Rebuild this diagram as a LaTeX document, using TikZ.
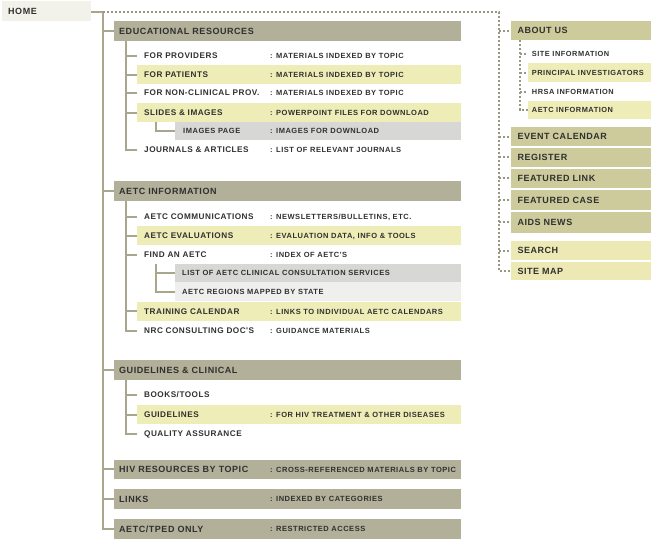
\documentclass[tikz,border=0pt]{standalone}
\usepackage{fontspec}
\newfontfamily\hf[LetterSpace=6]{Liberation Sans}
\newfontfamily\df[LetterSpace=7]{Liberation Sans}
\definecolor{hdr}{HTML}{B2B099}
\definecolor{rdk}{HTML}{CDCB9C}
\definecolor{hil}{HTML}{EEEDB7}
\definecolor{hilb}{HTML}{ECE9B4}
\definecolor{gry}{HTML}{D7D7D5}
\definecolor{lgy}{HTML}{EFEFEE}
\definecolor{homec}{HTML}{F3F2EA}
\definecolor{ln}{HTML}{A8A68C}
\definecolor{dl}{HTML}{99977F}
\definecolor{txt}{HTML}{303030}
\tikzset{
  bx/.style={inner sep=0, minimum height=19, draw=none},
  htx/.style={anchor=west, inner sep=0, text height=6.4, text depth=0, text=txt, font=\hf\bfseries\fontsize{9}{9}\selectfont},
  itx/.style={anchor=west, inner sep=0, text height=5.9, text depth=0, text=txt, font=\hf\bfseries\fontsize{8.2}{8.2}\selectfont},
  dtx/.style={anchor=west, inner sep=0, text height=5.4, text depth=0, text=txt, font=\df\bfseries\fontsize{7.5}{7.5}\selectfont},
  rtx/.style={anchor=west, inner sep=0, text height=5.3, text depth=0, text=txt, font=\df\bfseries\fontsize{7.4}{7.4}\selectfont},
  sln/.style={draw=ln, line width=2},
  dln/.style={draw=dl, line width=2, dash pattern=on 2.2 off 1.8},
}
\begin{document}
\begin{tikzpicture}[x=1pt,y=-1pt]
\useasboundingbox (0,0) rectangle (651,541);
% ---------- HOME
\node[bx, fill=homec, minimum width=89, minimum height=19.5] (home) at (46.5,10.75) {};
\node[htx] (homet) at (8,11) {HOME};
% ---------- headers
\node[bx, fill=hdr, minimum width=347, minimum height=20] (edu) at (287.5,31) {};
\node[htx] (edut) at (119,31) {EDUCATIONAL RESOURCES};
\node[bx, fill=hdr, minimum width=347, minimum height=19.5] (aetc) at (287.5,191) {};
\node[htx] (aetct) at (119,191) {AETC INFORMATION};
\node[bx, fill=hdr, minimum width=347, minimum height=20] (guide) at (287.5,370) {};
\node[htx] (guidet) at (119,370) {GUIDELINES \& CLINICAL};
\node[bx, fill=hdr, minimum width=347, minimum height=19.5] (hiv) at (287.5,469.3) {};
\node[htx] (hivt) at (119,469.3) {HIV RESOURCES BY TOPIC};
\node[dtx] (hivd) at (270,469.3) {: CROSS-REFERENCED MATERIALS BY TOPIC};
\node[bx, fill=hdr, minimum width=347, minimum height=19.5] (links) at (287.5,499) {};
\node[htx] (linkst) at (119,499) {LINKS};
\node[dtx] (linksd) at (270,499) {: INDEXED BY CATEGORIES};
\node[bx, fill=hdr, minimum width=347, minimum height=19.5] (tped) at (287.5,529.2) {};
\node[htx] (tpedt) at (119,529.2) {AETC/TPED ONLY};
\node[dtx] (tpedd) at (270,529.2) {: RESTRICTED ACCESS};
% ---------- educational resources items
\node[bx, minimum width=324] (prov) at (299,56) {};
\node[itx] (provt) at (144,56) {FOR PROVIDERS};
\node[dtx] (provd) at (270,56) {: MATERIALS INDEXED BY TOPIC};
\node[bx, fill=hil, minimum width=324] (pat) at (299,74.5) {};
\node[itx] (patt) at (144,74.5) {FOR PATIENTS};
\node[dtx] (patd) at (270,74.5) {: MATERIALS INDEXED BY TOPIC};
\node[bx, minimum width=324] (nonc) at (299,93) {};
\node[itx] (noncd0) at (144,93) {FOR NON-CLINICAL PROV.};
\node[dtx] (noncd) at (270,93) {: MATERIALS INDEXED BY TOPIC};
\node[bx, fill=hil, minimum width=324] (slides) at (299,112.5) {};
\node[itx] (slidest) at (144,112.5) {SLIDES \& IMAGES};
\node[dtx] (slidesd) at (270,112.5) {: POWERPOINT FILES FOR DOWNLOAD};
\node[bx, fill=gry, minimum width=286, minimum height=18.5] (imgs) at (318,131.2) {};
\node[dtx] (imgst) at (183,131.2) {IMAGES PAGE};
\node[dtx] (imgsd) at (270,131.2) {: IMAGES FOR DOWNLOAD};
\node[bx, minimum width=324] (journ) at (299,149.5) {};
\node[itx] (journt) at (144,149.5) {JOURNALS \& ARTICLES};
\node[dtx] (journd) at (270,149.5) {: LIST OF RELEVANT JOURNALS};
% ---------- AETC items
\node[bx, minimum width=324] (comm) at (299,216.5) {};
\node[itx] (commt) at (144,216.5) {AETC COMMUNICATIONS};
\node[dtx] (commd) at (270,216.5) {: NEWSLETTERS/BULLETINS, ETC.};
\node[bx, fill=hil, minimum width=324] (eval) at (299,235.5) {};
\node[itx] (evalt) at (144,235.5) {AETC EVALUATIONS};
\node[dtx] (evald) at (270,235.5) {: EVALUATION DATA, INFO \& TOOLS};
\node[bx, minimum width=324] (find) at (299,254.5) {};
\node[itx] (findt) at (144,254.5) {FIND AN AETC};
\node[dtx] (findd) at (270,254.5) {: INDEX OF AETC'S};
\node[bx, fill=gry, minimum width=286, minimum height=18] (list) at (318,273.1) {};
\node[dtx] (listt) at (182,273.1) {LIST OF AETC CLINICAL CONSULTATION SERVICES};
\node[bx, fill=lgy, minimum width=286, minimum height=19.3] (regions) at (318,291.7) {};
\node[dtx] (regionst) at (182,291.7) {AETC REGIONS MAPPED BY STATE};
\node[bx, fill=hil, minimum width=324, minimum height=18.7] (train) at (299,311.3) {};
\node[itx] (traint) at (144,311.3) {TRAINING CALENDAR};
\node[dtx] (traind) at (270,311.3) {: LINKS TO INDIVIDUAL AETC CALENDARS};
\node[bx, minimum width=324] (nrc) at (299,331) {};
\node[itx] (nrct) at (144,331) {NRC CONSULTING DOC'S};
\node[dtx] (nrcd) at (270,331) {: GUIDANCE MATERIALS};
% ---------- guidelines items
\node[bx, minimum width=324] (books) at (299,395) {};
\node[itx] (bookst) at (144,395) {BOOKS/TOOLS};
\node[bx, fill=hil, minimum width=324] (gl) at (299,414.5) {};
\node[itx] (glt) at (144,414.5) {GUIDELINES};
\node[dtx] (gld) at (270,414.5) {: FOR HIV TREATMENT \& OTHER DISEASES};
\node[bx, minimum width=324] (qa) at (299,433.5) {};
\node[itx] (qat) at (144,433.5) {QUALITY ASSURANCE};
% ---------- right column
\node[bx, fill=rdk, minimum width=140] (about) at (581,30.5) {};
\node[htx] (aboutt) at (517.3,30.5) {ABOUT US};
\node[bx, minimum width=123] (site) at (589.5,53.5) {};
\node[rtx] (sitet) at (531.7,53.5) {SITE INFORMATION};
\node[bx, fill=hil, minimum width=123] (pi) at (589.5,72.8) {};
\node[rtx] (pit) at (531.7,72.8) {PRINCIPAL INVESTIGATORS};
\node[bx, minimum width=123] (hrsa) at (589.5,91.5) {};
\node[rtx] (hrsat) at (531.7,91.5) {HRSA INFORMATION};
\node[bx, fill=hil, minimum width=123, minimum height=18.3] (ainfo) at (589.5,109.9) {};
\node[rtx] (ainfot) at (531.7,109.9) {AETC INFORMATION};
\node[bx, fill=rdk, minimum width=140, minimum height=18.4] (event) at (581,136.5) {};
\node[htx] (eventt) at (517.3,136.5) {EVENT CALENDAR};
\node[bx, fill=rdk, minimum width=140, minimum height=18.7] (reg) at (581,157.3) {};
\node[htx] (regt) at (517.3,157.3) {REGISTER};
\node[bx, fill=rdk, minimum width=140, minimum height=18.7] (flink) at (581,178.3) {};
\node[htx] (flinkt) at (517.3,178.3) {FEATURED LINK};
\node[bx, fill=rdk, minimum width=140, minimum height=19.7] (fcase) at (581,199.8) {};
\node[htx] (fcaset) at (517.3,199.8) {FEATURED CASE};
\node[bx, fill=rdk, minimum width=140, minimum height=20.7] (aids) at (581,222.3) {};
\node[htx] (aidst) at (517.3,222.3) {AIDS NEWS};
\node[bx, fill=hilb, minimum width=140, minimum height=18.4] (search) at (581,250.5) {};
\node[htx] (searcht) at (517.3,250.5) {SEARCH};
\node[bx, fill=hilb, minimum width=140, minimum height=18] (smap) at (581,271) {};
\node[htx] (smapt) at (517.3,271) {SITE MAP};
% ---------- coordinates
\coordinate (t0) at (103,12);
\coordinate (r0) at (499,12);
\coordinate (e0) at (126,41);
\coordinate (a0) at (126,200.7);
\coordinate (g0) at (126,380);
\coordinate (s0) at (156,122);
\coordinate (f0) at (156,264);
\coordinate (u0) at (520,40);
% ---------- solid tree
\draw[sln] (home.east |- t0) -- (t0) -- (t0 |- tped.west) -- (tped.west);
\foreach \n in {edu,aetc,guide,hiv,links} \draw[sln] (t0 |- \n.west) -- (\n.west);
\draw[sln] (e0) -- (e0 |- journ.west) -- (journ.west);
\foreach \n in {prov,pat,nonc,slides} \draw[sln] (e0 |- \n.west) -- (\n.west);
\draw[sln] (s0) -- (s0 |- imgs.west) -- (imgs.west);
\draw[sln] (a0) -- (a0 |- nrc.west) -- (nrc.west);
\foreach \n in {comm,eval,find,train} \draw[sln] (a0 |- \n.west) -- (\n.west);
\draw[sln] (f0) -- (f0 |- regions.west) -- (regions.west);
\draw[sln] (f0 |- list.west) -- (list.west);
\draw[sln] (g0) -- (g0 |- qa.west) -- (qa.west);
\foreach \n in {books,gl} \draw[sln] (g0 |- \n.west) -- (\n.west);
% ---------- dashed tree
\draw[dln] (t0) -- (r0) -- (r0 |- smap.west) -- (smap.west);
\foreach \n in {about,event,reg,flink,fcase,aids,search} \draw[dln] (r0 |- \n.west) -- (\n.west);
\draw[dln] (u0) -- (u0 |- ainfo.west) -- (ainfo.west);
\foreach \n in {site,pi,hrsa} \draw[dln] (u0 |- \n.west) -- (\n.west);
\end{tikzpicture}
\end{document}
